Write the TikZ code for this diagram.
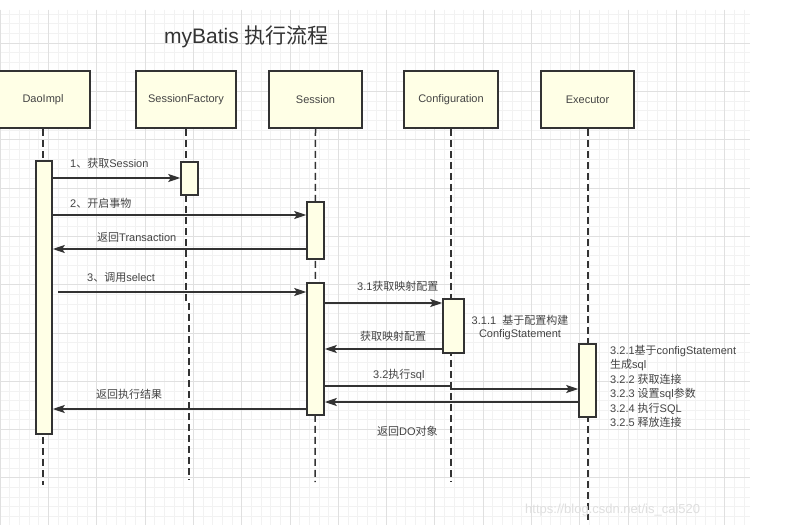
\documentclass[tikz,border=0pt]{standalone}
\usepackage{fontspec}
\setmainfont{Liberation Sans}
\newfontfamily\cjk{Noto Sans CJK SC}
\usetikzlibrary{arrows.meta}
\newcommand\zh[1]{{\cjk #1}}
\definecolor{linec}{HTML}{333333}
\definecolor{txtc}{HTML}{444444}
\definecolor{boxfill}{HTML}{FFFFE6}
\definecolor{gminor}{HTML}{F2F2F2}
\definecolor{gmajor}{HTML}{E0E0E0}
\begin{document}
\begin{tikzpicture}[x=1pt,y=-1pt,
  head/.style={draw=linec, line width=1.8pt, fill=boxfill, minimum width=94pt, minimum height=57pt, inner sep=0pt, text=txtc, font=\fontsize{11}{13}\selectfont},
  actbar/.style={draw=linec, line width=1.5pt, fill=boxfill, minimum width=17pt, inner sep=0pt},
  life/.style={draw=linec, line width=1.5pt, dash pattern=on 7pt off 4pt},
  msg/.style={draw=linec, line width=1.6pt, -{Stealth[length=12pt,width=8pt,inset=2.5pt]}},
  lbl/.style={text=txtc, inner sep=0pt, anchor=west, font=\fontsize{11}{13}\selectfont},
  minorgrid/.style={draw=gminor, line width=0.5pt},
  majorgrid/.style={draw=gmajor, line width=0.6pt}]
\useasboundingbox (0,0) rectangle (794,529);
\fill[white] (0,0) rectangle (794,529);
% grid background
\begin{scope}
\clip (0,10) rectangle (750,525);
\foreach \i in {0,...,78} \draw[minorgrid] ({\i*9.66},10) -- ({\i*9.66},525);
\foreach \i in {-4,...,50} \draw[minorgrid] (0,{43+\i*9.66}) -- (750,{43+\i*9.66});
\foreach \i in {0,...,16} \draw[majorgrid] ({\i*48.3},10) -- ({\i*48.3},525);
\foreach \i in {-1,...,10} \draw[majorgrid] (0,{43+\i*48.3}) -- (750,{43+\i*48.3});
\end{scope}
% title
\node[text=linec, inner sep=0pt, anchor=west, font=\fontsize{21}{24}\selectfont] (title) at (164,37) {myBatis \zh{执行流程}};
% heads
\node[head] (dao) at (43,99.5) {DaoImpl};
\node[head, minimum width=100pt] (sf) at (186,99.5) {SessionFactory};
\node[head, minimum width=93pt] (ses) at (315.5,99.5) {Session};
\node[head] (conf) at (451,99.5) {Configuration};
\node[head, minimum width=93pt] (exe) at (587.5,99.5) {Executor};
% lifelines
\coordinate (daoend) at (43,485);
\coordinate (sfmid) at (186,303);
\coordinate (sfmid2) at (189,303);
\coordinate (sfend) at (189,480);
\coordinate (sesend) at (315,482);
\coordinate (confend) at (451,482);
\coordinate (exeend) at (588,520);
\draw[life] (dao.south) -- (daoend);
\draw[life] (sf.south) -- (sfmid);
\draw[life] (sfmid2) -- (sfend);
\draw[life] (ses.south) -- (sesend);
\draw[life] (conf.south) -- (confend);
\draw[life] (exe.south -| exeend) -- (exeend);
% activation bars
\node[actbar, minimum width=16pt, minimum height=273pt] (daobar) at (44,297.5) {};
\node[actbar, minimum height=33pt] (sfbar) at (189.5,178.5) {};
\node[actbar, minimum height=57pt] (sesbarA) at (315.5,230.5) {};
\node[actbar, minimum height=132pt] (sesbarB) at (315.5,349) {};
\node[actbar, minimum width=21pt, minimum height=54pt] (confbar) at (453.5,326) {};
\node[actbar, minimum height=73pt] (exebar) at (587.5,380.5) {};
% messages
\draw[msg] (daobar.east |- 0,178) -- (sfbar.west |- 0,178);
\node[lbl] (l1) at (70,163) {1\zh{、获取}Session};
\draw[msg] (daobar.east |- 0,215) -- (sesbarA.west |- 0,215);
\node[lbl] (l2) at (70,203) {2\zh{、开启事物}};
\draw[msg] (sesbarA.west |- 0,249) -- (daobar.east |- 0,249);
\node[lbl] (l3) at (97,237) {\zh{返回}Transaction};
\coordinate (selstart) at (58,292);
\draw[msg] (selstart) -- (sesbarB.west |- selstart);
\node[lbl] (l4) at (87,277) {3\zh{、调用}select};
\draw[msg] (sesbarB.east |- 0,303) -- (confbar.west |- 0,303);
\node[lbl] (l5) at (357,286) {3.1\zh{获取映射配置}};
\draw[msg] (confbar.west |- 0,349) -- (sesbarB.east |- 0,349);
\node[lbl] (l6) at (360,336) {\zh{获取映射配置}};
\coordinate (k1) at (451,386);
\coordinate (k2) at (451,389);
\draw[msg] (sesbarB.east |- k1) -- (k1) -- (k2) -- (exebar.west |- k2);
\node[lbl] (l7) at (373,375) {3.2\zh{执行}sql};
\draw[msg] (exebar.west |- 0,402) -- (sesbarB.east |- 0,402);
\node[lbl] (l8) at (377,431) {\zh{返回}DO\zh{对象}};
\draw[msg] (sesbarB.west |- 0,409) -- (daobar.east |- 0,409);
\node[lbl] (l9) at (96,394) {\zh{返回执行结果}};
% notes
\node[text=txtc, inner sep=0pt, align=center, font=\fontsize{11}{13.5}\selectfont] (n1) at (520,327.5) {3.1.1\ \ \zh{基于配置构建}\\ConfigStatement};
\node[text=txtc, inner sep=0pt, anchor=north west, align=left, font=\fontsize{11}{14.4}\selectfont] (n2) at (610,345) {3.2.1\zh{基于}configStatement\\\zh{生成}sql\\3.2.2 \zh{获取连接}\\3.2.3 \zh{设置}sql\zh{参数}\\3.2.4 \zh{执行}SQL\\3.2.5 \zh{释放连接}};
% watermark
\node[text=gray!25, inner sep=0pt, anchor=west, font=\fontsize{13}{15}\selectfont] (wm) at (525,510) {https://blog.csdn.net/is\_cai520};
\end{tikzpicture}
\end{document}
